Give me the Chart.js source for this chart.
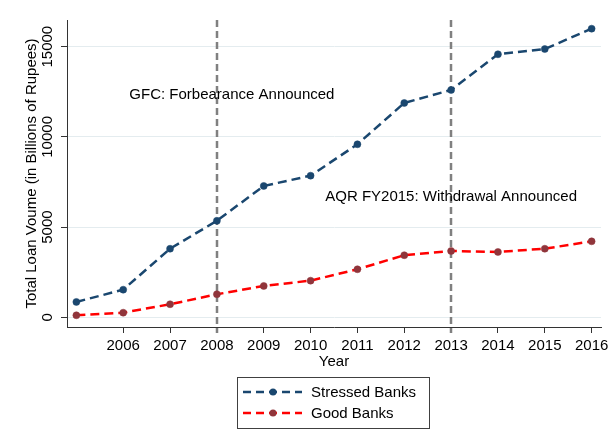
<!DOCTYPE html>
<html>
<head>
<meta charset="utf-8">
<script src="https://cdn.jsdelivr.net/npm/chart.js@4.4.0/dist/chart.umd.min.js"></script>
<style>
  body { margin: 0; background: #fff; }
  #wrap { width: 608px; height: 447px; }
</style>
</head>
<body>
<div id="wrap"><canvas id="loanChart" width="608" height="447"></canvas></div>
<script>
// values
const years = [2005, 2006, 2007, 2008, 2009, 2010, 2011, 2012, 2013, 2014, 2015, 2016];
const stressedBanks = [850, 1530, 3800, 5350, 7280, 7850, 9590, 11880, 12600, 14580, 14870, 16000];
const goodBanks = [110, 255, 720, 1275, 1735, 2030, 2660, 3440, 3675, 3620, 3800, 4210];
const xTickYears = [2006, 2007, 2008, 2009, 2010, 2011, 2012, 2013, 2014, 2015, 2016];
const yTickValues = [0, 5000, 10000, 15000];
const eventYears = [2008, 2013];
const eventLabels = ['GFC: Forbearance Announced', 'AQR FY2015: Withdrawal Announced'];
const eventLabelX = [2008.32, 2013];
const eventLabelY = [12320, 6690];

const FONT = '"Liberation Sans", Arial, sans-serif';
const NAVY = '#1a476f';
const RED = '#ff0000';
const MAROON = '#90353b';

//Turn the year/value arrays into points for the linear x axis
function toPoints(values) {
    return years.map((yr, i) => ({ x: yr, y: values[i] }));
}

//Draws reference lines, rotated y labels, axis titles, annotations and the boxed legend
const overlay = {
    id: 'overlay',
    beforeDatasetsDraw(chart) {
        const ctx = chart.ctx;
        const area = chart.chartArea;
        const xs = chart.scales.x;
        ctx.save();
        ctx.strokeStyle = '#808080';
        ctx.lineWidth = 2.5;
        ctx.setLineDash([7, 4]);
        eventYears.forEach(function (yr) {
            let px = Math.round(xs.getPixelForValue(yr));
            ctx.beginPath();
            ctx.moveTo(px, area.top);
            ctx.lineTo(px, area.bottom + 6);
            ctx.stroke();
        });
        ctx.restore();
    },
    afterDraw(chart) {
        const ctx = chart.ctx;
        const area = chart.chartArea;
        const xs = chart.scales.x;
        const ys = chart.scales.y;
        ctx.save();
        ctx.fillStyle = '#000';
        ctx.font = '15px ' + FONT;
        ctx.textAlign = 'center';
        ctx.textBaseline = 'middle';

        //y tick labels, turned on their side
        yTickValues.forEach(function (v) {
            ctx.save();
            ctx.translate(48, ys.getPixelForValue(v));
            ctx.rotate(-Math.PI / 2);
            ctx.fillText(String(v), 0, 0);
            ctx.restore();
        });

        //y title
        ctx.save();
        ctx.translate(32, (area.top + area.bottom) / 2);
        ctx.rotate(-Math.PI / 2);
        ctx.fillText('Total Loan Voume (in Billions of Rupees)', 0, 0);
        ctx.restore();

        //x title
        ctx.fillText('Year', (area.left + area.right) / 2, 362);

        //event annotations
        eventLabels.forEach(function (txt, i) {
            ctx.fillText(txt, xs.getPixelForValue(eventLabelX[i]), ys.getPixelForValue(eventLabelY[i]));
        });

        //legend box
        ctx.strokeStyle = '#404040';
        ctx.lineWidth = 1;
        ctx.strokeRect(237.5, 377.5, 192, 51);
        const entries = [
            { label: 'Stressed Banks', line: NAVY, dot: NAVY, y: 392 },
            { label: 'Good Banks', line: RED, dot: MAROON, y: 413 }
        ];
        entries.forEach(function (e) {
            ctx.save();
            ctx.strokeStyle = e.line;
            ctx.lineWidth = 2.5;
            ctx.setLineDash([8, 5]);
            ctx.beginPath();
            ctx.moveTo(243, e.y);
            ctx.lineTo(302, e.y);
            ctx.stroke();
            ctx.setLineDash([]);
            ctx.fillStyle = e.dot;
            ctx.beginPath();
            ctx.arc(273, e.y, 3.5, 0, Math.PI * 2);
            ctx.fill();
            ctx.restore();
            ctx.textAlign = 'left';
            ctx.fillText(e.label, 311, e.y + 1);
        });
        ctx.restore();
    }
};

let ctx = document.getElementById('loanChart').getContext('2d');
let loanChart = new Chart(ctx, {
    type: 'line',
    data: {
        datasets: [{
            label: 'Stressed Banks',
            data: toPoints(stressedBanks),
            borderColor: NAVY,
            backgroundColor: NAVY,
            pointBackgroundColor: NAVY,
            pointBorderColor: NAVY,
            borderWidth: 2.5,
            borderDash: [9, 5],
            pointRadius: 3.5,
            pointBorderWidth: 0.5,
            fill: false
        }, {
            label: 'Good Banks',
            data: toPoints(goodBanks),
            borderColor: RED,
            backgroundColor: MAROON,
            pointBackgroundColor: MAROON,
            pointBorderColor: MAROON,
            borderWidth: 2.5,
            borderDash: [9, 5],
            pointRadius: 3.5,
            pointBorderWidth: 0.5,
            fill: false
        }]
    },
    options: {
        responsive: false,
        animation: false,
        layout: { padding: { top: 20, right: 7, left: 0, bottom: 0 } },
        plugins: {
            legend: { display: false },
            tooltip: { enabled: false }
        },
        scales: {
            x: {
                type: 'linear',
                min: 2004.8,
                max: 2016.2,
                afterBuildTicks: function (scale) {
                    scale.ticks = xTickYears.map(v => ({ value: v }));
                },
                afterFit: function (scale) {
                    scale.height = 120;
                    scale.paddingLeft = 0;
                    scale.paddingRight = 0;
                },
                grid: { drawOnChartArea: false, drawTicks: true, tickLength: 6, color: '#333' },
                border: { display: true, color: '#333', width: 1 },
                ticks: {
                    color: '#000',
                    font: { family: FONT, size: 15 },
                    padding: 4,
                    maxRotation: 0,
                    autoSkip: false,
                    callback: v => String(v)
                }
            },
            y: {
                type: 'linear',
                min: -540,
                max: 16480,
                afterBuildTicks: function (scale) {
                    scale.ticks = yTickValues.map(v => ({ value: v }));
                },
                afterFit: function (scale) { scale.width = 67; },
                grid: { color: '#e4ecef', tickColor: '#333', drawTicks: true, tickLength: 6 },
                border: { display: true, color: '#333', width: 1 },
                ticks: { display: false }
            }
        }
    },
    plugins: [overlay]
});
</script>
</body>
</html>
